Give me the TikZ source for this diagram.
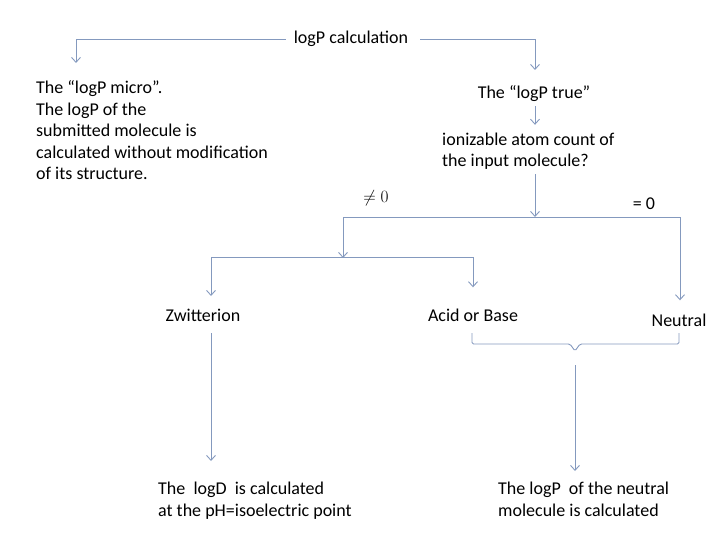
\documentclass[tikz,border=0pt]{standalone}
\usepackage{fontspec}
\setmainfont{Carlito}
\usetikzlibrary{arrows.meta}
\definecolor{flow_color}{RGB}{132, 153, 190}

\begin{document}
\begin{tikzpicture}[x=1pt, y=-1pt, font=\fontsize{18}{21.5}\selectfont,
    every node/.style={inner sep=0pt},
    link/.style={flow_color, line width=0.9pt},
    arrowlink/.style={link, -{Straight Barb[length=5pt, width=9pt]}}]

      \useasboundingbox (0,0) rectangle (720,540);

      % 1. Título y primeras ramas
      \node[anchor=base] (calc) at (351,44) {logP calculation};
      \coordinate (microin) at (76,63);
      \coordinate (truein) at (535,70);
      \draw[arrowlink] ([xshift=-8pt]calc.west) -| (microin);
      \draw[arrowlink] ([xshift=12pt]calc.east) -| (truein);

      % 2. logP micro (izquierda)
      \node[anchor=base west, align=left] (micro) at (36,180) {
        The “logP micro”.\\ The logP of the\\ submitted molecule is\\
        calculated without modification\\ of its structure.};

      % 3. logP true (derecha)
      \node[anchor=base] (true) at (534,99) {The “logP true”};
      \node[anchor=base west, align=left] (count) at (442,167) {
        ionizable atom count of\\ the input molecule?};
      \draw[arrowlink, shorten <=4pt, shorten >=8pt] (true.south -| truein) -- (count.north -| truein);

      % 4. Bifurcación por carga
      \coordinate (ionsplit) at (535,217);
      \coordinate (chargesplit) at (343,258);
      \draw[arrowlink, shorten <=4pt] (count.south -| ionsplit) -- (ionsplit);
      \node[anchor=base] (noteq) at (376,203) {$\neq 0$};
      \node[anchor=base] (iseq) at (644,210) {= 0};

      \node[anchor=base] (zwit) at (203,321) {Zwitterion};
      \node[anchor=base] (acid) at (473,321) {Acid or Base};
      \node[anchor=base] (neutral) at (679,326) {Neutral};
      \coordinate (zwitin) at (211,296);

      \draw[arrowlink] (ionsplit) -| (chargesplit);
      \draw[arrowlink, shorten >=13pt] (ionsplit) -| ([xshift=1pt]neutral.north);
      \draw[arrowlink] ([yshift=1pt]chargesplit) -| (zwitin);
      \draw[arrowlink, shorten >=21pt] ([yshift=1pt]chargesplit) -| (acid.north);

      % 5. Resultados
      \node[anchor=base west, align=left] (logd) at (158,516) {
        The \ logD \ is calculated\\ at the pH=isoelectric point};
      \node[anchor=base west, align=left] (logpn) at (498,516) {
        The logP \ of the neutral\\ molecule is calculated};

      \coordinate (logdin) at (211,461);
      \coordinate (logpin) at (575,471);
      \draw[arrowlink, shorten <=12pt] (zwit.south -| logdin) -- (logdin);

      % llave bajo Acid or Base y Neutral
      \draw[link, rounded corners=1.5pt] (472,333) -- (472,344) -- (570,344) -- (575,351)
        -- (580,344) -- (679,344) -- (679,333);
      \draw[arrowlink] (575,365) -- (logpin);

    \end{tikzpicture}
\end{document}
